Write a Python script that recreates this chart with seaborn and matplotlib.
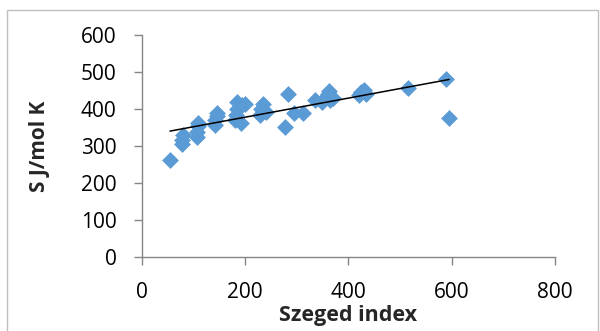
import matplotlib
matplotlib.use("Agg")
import matplotlib.pyplot as plt
import seaborn as sns
import numpy as np
import pandas as pd
from matplotlib.patches import Rectangle

szeged = [55, 78, 78, 80, 107, 107, 110, 110, 143, 143, 145, 145,
          180, 182, 185, 185, 193, 195, 200, 230, 232, 235, 240,
          278, 283, 295, 312, 335, 350, 355, 360, 362, 365, 370,
          420, 425, 430, 435, 515, 590, 595]
entropy = [263, 306, 316, 330, 323, 338, 353, 363, 357, 370, 380, 390,
           370, 385, 400, 420, 362, 410, 415, 385, 400, 415, 392,
           352, 440, 390, 390, 425, 420, 430, 440, 450, 425, 430,
           437, 447, 453, 442, 457, 482, 375]

df = pd.DataFrame({"Szeged index": szeged, "S J/mol K": entropy})

sns.set_theme(style="white")
plt.rcParams['font.family'] = ['Open Sans', 'DejaVu Sans']

fig = plt.figure(figsize=(6.0, 3.31), dpi=100)
ax = fig.add_axes([0.236, 0.225, 0.689, 0.668])

sns.scatterplot(data=df, x="Szeged index", y="S J/mol K", marker="D",
                color="#5B9BD5", s=65, edgecolor="#5B9BD5", linewidth=0.5, ax=ax)
coef = np.polyfit(df["Szeged index"], df["S J/mol K"], 1)
xs = np.array([min(szeged), max(szeged)])
ax.plot(xs, np.polyval(coef, xs), color="black", lw=1.1)

ax.set_xlim(0, 800)
ax.set_ylim(0, 600)
ax.set_xticks([0, 200, 400, 600, 800])
ax.set_yticks([0, 100, 200, 300, 400, 500, 600])
for s in ["top", "right"]:
    ax.spines[s].set_visible(False)
for s in ["left", "bottom"]:
    ax.spines[s].set_color("#868686")
    ax.spines[s].set_linewidth(1.0)
ax.tick_params(axis="both", which="major", direction="out", length=6,
               color="#868686", width=1.0, labelsize=15, labelcolor="black",
               left=True, bottom=True)
ax.tick_params(axis="y", pad=12)
ax.tick_params(axis="x", pad=12)
ax.set_xlabel("Szeged index", fontsize=15.5, fontweight="bold", labelpad=2)
ax.set_ylabel("S J/mol K", fontsize=15, fontweight="bold", labelpad=22)

fig.patches.append(Rectangle((7/600, -0.05), 591/600, 1.05 - 10/331,
                             transform=fig.transFigure, fill=False,
                             edgecolor="#BFBFBF", lw=1.0))
fig.savefig("out.png", dpi=100)
